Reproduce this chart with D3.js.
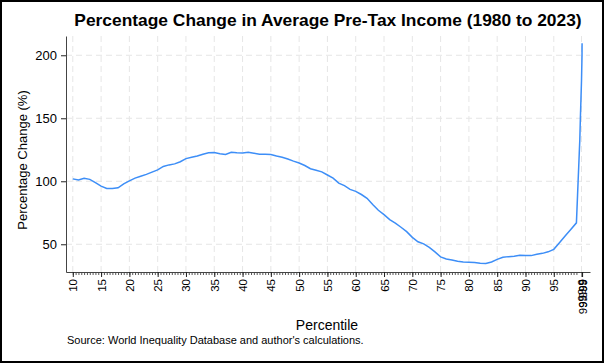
<!DOCTYPE html>
<html>
<head>
<meta charset="utf-8">
<script src="https://cdn.jsdelivr.net/npm/d3@7"></script>
<style>
  body { margin: 0; background: #fff; }
  svg { display: block; font-family: "Liberation Sans", Arial, sans-serif; }
</style>
</head>
<body>
<div id="chart"></div>
<script>
var percentiles = [10, 11, 12, 13, 14, 15, 16, 17, 18, 19, 20, 21, 22, 23, 24, 25, 26, 27, 28, 29,
  30, 31, 32, 33, 34, 35, 36, 37, 38, 39, 40, 41, 42, 43, 44, 45, 46, 47, 48, 49,
  50, 51, 52, 53, 54, 55, 56, 57, 58, 59, 60, 61, 62, 63, 64, 65, 66, 67, 68, 69,
  70, 71, 72, 73, 74, 75, 76, 77, 78, 79, 80, 81, 82, 83, 84, 85, 86, 87, 88, 89,
  90, 91, 92, 93, 94, 95, 96, 97, 98, 99, 99.1, 99.2, 99.3, 99.4, 99.5, 99.6, 99.7, 99.8, 99.9,
  99.99, 99.999]

var pctChange = [101.9, 101, 102.4, 101.5, 99, 96.2, 94.3, 94.2, 94.8, 98, 100.3, 102.5, 104, 105.5, 107.3, 109, 111.8, 113, 113.8, 115.5,
  118, 119, 120, 121.5, 122.6, 122.8, 121.8, 121.2, 123, 122.6, 122.5, 123, 122.3, 121.4, 121.4, 121.3, 120, 119, 117.7, 116,
  114.5, 112.5, 110, 108.8, 107.5, 105, 102.5, 98.5, 96.5, 93.6, 92, 89.5, 86.5, 81.5, 77, 73.5, 69.6, 66.8, 63.5, 60,
  55.5, 52, 50.3, 47.5, 44, 40, 38.3, 37.5, 36.5, 36, 35.8, 35.6, 35, 34.7, 36, 38, 39.7, 40.2, 40.5, 41.2,
  41.1, 41, 42, 42.8, 44, 46, 51.3, 56.5, 61.8, 67, 78, 89, 100, 111, 122, 133, 150, 165, 180,
  200, 209.5]

var xTicks = [10, 15, 20, 25, 30, 35, 40, 45, 50, 55, 60, 65, 70, 75, 80, 85, 90, 95,
  99.9, 99.99, 99.999]
var xMinor = d3.range(10, 99.01, 0.5)
var yTicks = [50, 100, 150, 200]

var width = 604, height = 363
var margin = { top: 36, right: 14, bottom: 91, left: 66 }
var chart_width = width - margin.left - margin.right,
    chart_height = height - margin.top - margin.bottom

var svg = d3.select("#chart")
  .append("svg")
  .attr("width", width)
  .attr("height", height)

svg.append("rect")
  .attr("x", 1).attr("y", 1)
  .attr("width", width - 2).attr("height", height - 2)
  .attr("fill", "#fff")
  .attr("stroke", "#000")
  .attr("stroke-width", 2)

var chartGroup = svg.append("g")
  .attr("transform", "translate(" + margin.left + "," + margin.top + ")")

var xScale = d3.scaleLinear()
  .domain([8.8, 101.4])
  .range([0, chart_width])

var yScale = d3.scaleLinear()
  .domain([28, 215.3])
  .range([chart_height, 0])

// grid lines
chartGroup.append("g")
  .selectAll("line")
  .data(yTicks)
  .enter()
  .append("line")
  .attr("x1", 0).attr("x2", chart_width)
  .attr("y1", d => yScale(d)).attr("y2", d => yScale(d))
  .attr("stroke", "#e6e6e6")
  .attr("stroke-dasharray", "6,4")

chartGroup.append("g")
  .selectAll("line")
  .data(xTicks.slice(0, 19))
  .enter()
  .append("line")
  .attr("x1", d => xScale(d)).attr("x2", d => xScale(d))
  .attr("y1", 0).attr("y2", chart_height)
  .attr("stroke", "#e6e6e6")
  .attr("stroke-dasharray", "6,4")

// minor ticks
chartGroup.append("g")
  .attr("transform", `translate(0, ${chart_height})`)
  .call(d3.axisBottom(xScale).tickValues(xMinor).tickSize(3).tickFormat(""))
  .call(g => g.select(".domain").remove())
  .selectAll("line").attr("stroke", "#555")

var xAxis = chartGroup.append("g")
  .attr("transform", `translate(0, ${chart_height})`)
  .call(d3.axisBottom(xScale).tickValues(xTicks).tickSize(5).tickSizeOuter(0).tickFormat(d => d))

xAxis.select(".domain").attr("stroke", "#444")
xAxis.selectAll(".tick line").attr("stroke", "#222")
xAxis.selectAll("text")
  .attr("font-size", 11.5)
  .attr("fill", "#000")
  .attr("text-anchor", "end")
  .attr("dy", "0.35em")
  .attr("transform", "translate(0,7) rotate(-90)")
  .attr("x", 0).attr("y", 0)

var yAxis = chartGroup.append("g")
  .call(d3.axisLeft(yScale).tickValues(yTicks).tickSize(5).tickSizeOuter(0))

yAxis.select(".domain").attr("stroke", "#444")
yAxis.selectAll(".tick line").attr("stroke", "#222")
yAxis.selectAll("text")
  .attr("font-size", 13)
  .attr("fill", "#000")
  .attr("x", -9)

var line = d3.line()
  .x((d, i) => xScale(percentiles[i]))
  .y(d => yScale(d))

chartGroup.append("path")
  .datum(pctChange)
  .attr("d", line)
  .attr("fill", "none")
  .attr("stroke", "#3d8ef7")
  .attr("stroke-width", 1.5)

// texts
var title = svg.append("text")
  .attr("x", 328).attr("y", 26)
  .attr("text-anchor", "middle")
  .attr("font-size", 18)
  .attr("font-weight", "bold")
  .text("Percentage Change in Average Pre-Tax Income (1980 to 2023)")

// fit title to the width it has in the picture
var tw = title.node().getComputedTextLength()
title.attr("font-size", 18 * 508 / tw)

svg.append("text")
  .attr("transform", "translate(27,160) rotate(-90)")
  .attr("text-anchor", "middle")
  .attr("font-size", 13)
  .text("Percentage Change (%)")

svg.append("text")
  .attr("x", 327).attr("y", 330)
  .attr("text-anchor", "middle")
  .attr("font-size", 14)
  .text("Percentile")

svg.append("text")
  .attr("x", 67).attr("y", 344)
  .attr("font-size", 11)
  .text("Source: World Inequality Database and author's calculations.")
</script>
</body>
</html>
